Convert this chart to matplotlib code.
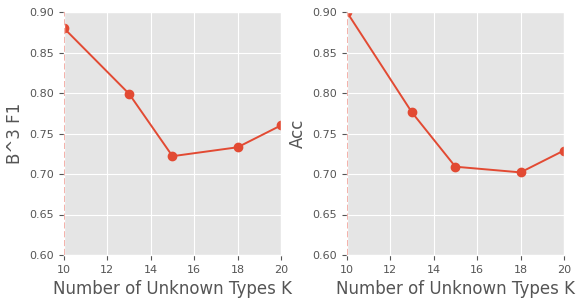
import matplotlib
matplotlib.use("Agg")
import matplotlib.pyplot as plt

plt.style.use("ggplot")

k_values = [10, 13, 15, 18, 20]
b3_f1 = [0.880, 0.799, 0.722, 0.733, 0.760]
acc = [0.900, 0.776, 0.709, 0.702, 0.729]
y_ticks = [0.60, 0.65, 0.70, 0.75, 0.80, 0.85, 0.90]
x_ticks = [10, 12, 14, 16, 18, 20]

fig = plt.figure(figsize=(5.79, 3.0), dpi=100)
ax1 = fig.add_axes([0.1105, 0.15, 0.3748, 0.81])
ax2 = fig.add_axes([0.599, 0.15, 0.375, 0.81])

panels = [(ax1, b3_f1, "B^3 F1"), (ax2, acc, "Acc")]
for ax, vals, ylabel in panels:
    ax.plot(k_values, vals, marker="o", color="#e24a33", markersize=6, linewidth=1.4)
    ax.axvline(10, color="#f2a49c", linestyle="--", linewidth=1.2, zorder=3)
    ax.set_xlim(10, 20)
    ax.set_ylim(0.6, 0.9)
    ax.set_xticks(x_ticks)
    ax.set_yticks(y_ticks)
    ax.tick_params(labelsize=8, colors="#555555")
    ax.set_xlabel("Number of Unknown Types K", fontsize=12, color="#555555")
    ax.set_ylabel(ylabel, fontsize=12, color="#555555")

fig.savefig("out.png", dpi=100)
